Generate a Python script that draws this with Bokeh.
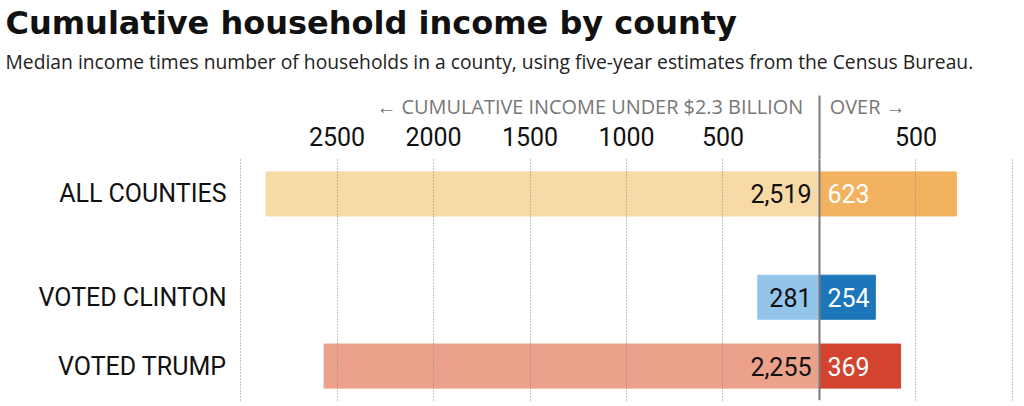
from bokeh.plotting import figure
from bokeh.models import (ColumnDataSource, FactorRange, Range1d, LinearAxis, FixedTicker,
                          Grid, Span, Title)
from bokeh.core.properties import value
from bokeh.embed import file_html
from bokeh.resources import INLINE

# ---- data ----
GROUPS = ["vote", "vote", "all"]
CATEGORIES = ["VOTED TRUMP", "VOTED CLINTON", "ALL COUNTIES"]
UNDER = [2255, 281, 2519]          # counties under $2.3 billion
OVER = [369, 254, 623]             # counties over $2.3 billion
UNDER_LABELS = ["2,255", "281", "2,519"]
OVER_LABELS = ["369", "254", "623"]
UNDER_COLORS = ["#eca18b", "#93c4ea", "#f8daa6"]
OVER_COLORS = ["#d2442f", "#1c76b9", "#f3b25f"]
TICKS = [-2500, -2000, -1500, -1000, -500, 500]
TICK_LABELS = ["2500", "2000", "1500", "1000", "500", "500"]
GRID_TICKS = [-3000, -2500, -2000, -1500, -1000, -500, 500, 1000]

TITLE = "Cumulative household income by county"
SUBTITLE = ("Median income times number of households in a county, "
            "using five-year estimates from the Census Bureau.")
HEAD_LEFT = "\u2190 CUMULATIVE INCOME UNDER $2.3 BILLION"
HEAD_RIGHT = "OVER \u2192"
HEAD_GAP = "\u2003\u2009\u2009"

FONT = "Roboto"
HFONT = "Open Sans"
TFONT = "DejaVu Sans"
factors = list(zip(GROUPS, CATEGORIES))

src = ColumnDataSource(dict(
    y=factors,
    neg=[-u for u in UNDER],
    over=OVER,
    ul=UNDER_LABELS,
    ol=OVER_LABELS,
    uc=UNDER_COLORS,
    oc=OVER_COLORS,
))

y_range = FactorRange(*factors, factor_padding=0, group_padding=0.5, range_padding=0)

p = figure(width=1024, height=406, y_range=y_range,
           x_range=Range1d(-2667.3, 933.1),
           x_axis_location=None,
           output_backend="svg", toolbar_location=None,
           min_border_left=233, min_border_top=159,
           min_border_right=0, min_border_bottom=6,
           outline_line_color=None)
p.ygrid.visible = False
p.xgrid.visible = False

# axis scale for the tick labels (as drawn in the original)
p.extra_x_ranges = {"axis": Range1d(-3036.3, 1062.2)}

yax = p.yaxis[0]
yax.axis_line_color = None
yax.major_tick_line_color = None
yax.minor_tick_line_color = None
yax.major_label_standoff = 1
yax.major_label_text_font = FONT
yax.major_label_text_font_size = "25px"
yax.major_label_text_color = "#111111"
yax.group_text_font_size = "1px"
yax.group_text_color = None
yax.separator_line_color = None

top_axis = LinearAxis(
    x_range_name="axis",
    ticker=FixedTicker(ticks=TICKS, minor_ticks=[0]),
    major_label_overrides={t: l for t, l in zip(TICKS, TICK_LABELS)},
    axis_line_color=None,
    major_tick_line_color=None, major_tick_in=0, major_tick_out=0,
    minor_tick_in=0, minor_tick_out=64,
    minor_tick_line_color="#7a7a7a", minor_tick_line_width=2,
    major_label_standoff=-50,
    major_label_text_font=FONT, major_label_text_font_size="25px",
    major_label_text_color="#111111",
)
p.add_layout(top_axis, "above")

# header, subtitle, title (stacked outward from the axis)
p.add_layout(Title(text=HEAD_LEFT + HEAD_GAP + HEAD_RIGHT, align="left", offset=143,
                   standoff=7, text_font=HFONT, text_font_style="normal",
                   text_font_size="19.9px", text_color="#777777"), "above")
p.add_layout(Title(text=SUBTITLE, align="left", offset=-228, standoff=25,
                   text_font=HFONT, text_font_style="normal",
                   text_font_size="19.3px", text_color="#222222"), "above")
p.add_layout(Title(text=TITLE, align="left", offset=-228, standoff=-17,
                   text_font=TFONT, text_font_style="bold",
                   text_font_size="32px", text_color="#111111"), "above")

p.hbar(y="y", left="neg", right=0, height=0.64, color="uc", source=src)
p.hbar(y="y", left=0, right="over", height=0.64, color="oc", source=src)

grid = Grid(dimension=0, ticker=FixedTicker(ticks=GRID_TICKS), x_range_name="axis",
            grid_line_color="#8a8a8a", grid_line_dash="1 2", grid_line_width=1,
            level="guide")
p.add_layout(grid)

p.add_layout(Span(location=0, dimension="height", line_color="#7a7a7a",
                  line_width=2, level="guide"))

p.text(x=0, y="y", text="ul", source=src, x_offset=-8, text_align="right",
       text_baseline="middle", text_font=value(FONT), text_font_size="25px",
       text_color="#111111")
p.text(x=0, y="y", text="ol", source=src, x_offset=8, text_align="left",
       text_baseline="middle", text_font=value(FONT), text_font_size="25px",
       text_color="#ffffff")

open("out.html", "w").write(file_html(p, INLINE))
